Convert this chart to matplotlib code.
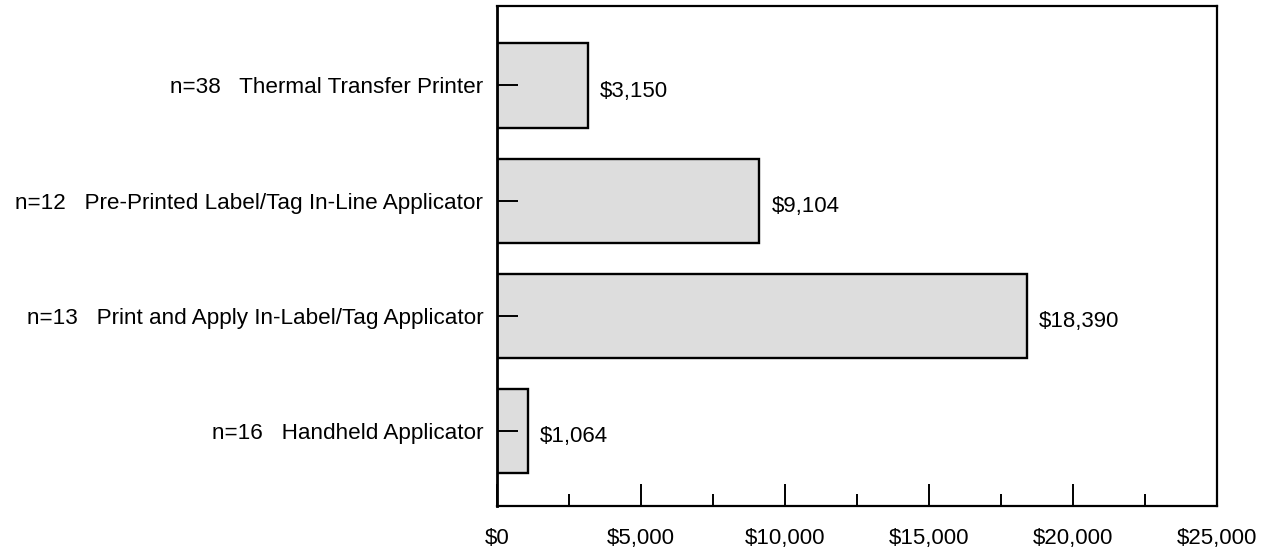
import matplotlib.pyplot as plt
from matplotlib.ticker import MultipleLocator, FuncFormatter

# data
labels = ['n=38   Thermal Transfer Printer',
          'n=12   Pre-Printed Label/Tag In-Line Applicator',
          'n=13   Print and Apply In-Label/Tag Applicator',
          'n=16   Handheld Applicator']
costs = [3150, 9104, 18390, 1064]
x_ticks = [0, 5000, 10000, 15000, 20000, 25000]

plt.rcParams['font.family'] = ['Liberation Sans', 'DejaVu Sans']

fig = plt.figure(figsize=(12.82, 5.54), dpi=100)
ax = fig.add_axes([0.3877, 0.0866, 0.9493 - 0.3877, 0.9892 - 0.0866])

y = list(range(len(labels)))
ax.barh(y, costs, height=0.73, color='#dddddd', edgecolor='black', linewidth=1.7, zorder=1)

# value labels sit a little below the bar centre in the original
for yi, v in zip(y, costs):
    ax.annotate('${:,}'.format(v), (v, yi), xytext=(9, -4), textcoords='offset points',
                va='center', ha='left', fontsize=16)

ax.set_xlim(0, 25000)
ax.set_ylim(3.65, -0.69)
ax.set_yticks(y)
ax.set_yticklabels(labels, fontsize=16.2)
ax.set_xticks(x_ticks)
ax.xaxis.set_major_formatter(FuncFormatter(lambda v, p: '${:,.0f}'.format(v)))
ax.xaxis.set_minor_locator(MultipleLocator(2500))
ax.tick_params(axis='x', which='major', direction='in', length=16, width=1.4, pad=16, labelsize=16)
ax.tick_params(axis='x', which='minor', direction='in', length=9, width=1.4)
ax.tick_params(axis='y', direction='in', length=15, width=1.4, pad=10)
ax.set_axisbelow(False)

for s in ax.spines.values():
    s.set_linewidth(1.6)
ax.spines['left'].set_linewidth(2.0)

fig.savefig('out.png', dpi=100)
